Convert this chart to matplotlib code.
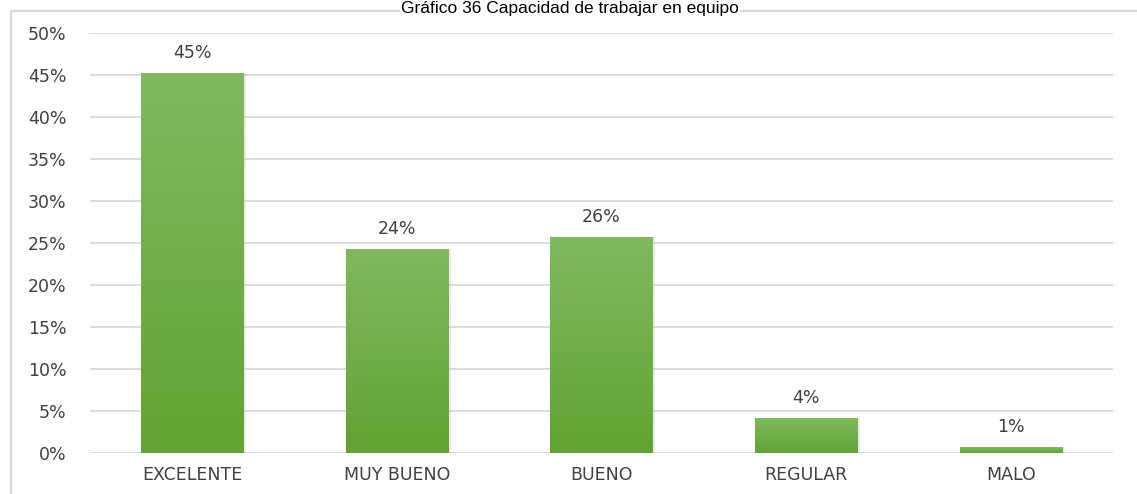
import matplotlib
matplotlib.use("Agg")
import matplotlib.pyplot as plt
import numpy as np
from matplotlib.patches import Rectangle
from matplotlib.colors import LinearSegmentedColormap

# Survey results
categories = ["EXCELENTE", "MUY BUENO", "BUENO", "REGULAR", "MALO"]
percentages = [45.2, 24.3, 25.7, 4.2, 0.7]
y_ticks = [0, 5, 10, 15, 20, 25, 30, 35, 40, 45, 50]
title = "Gráfico 36 Capacidad de trabajar en equipo"

W, H = 1137, 494
FONT = "DejaVu Sans"
FS = 12.5
fig = plt.figure(figsize=(W / 100, H / 100), dpi=100)
fig.patch.set_facecolor("white")

# Light frame around the chart area
frame = Rectangle((11 / W, -0.05), 1.2, 1 - 11 / H + 0.05, transform=fig.transFigure,
                  fill=False, edgecolor="#d9d9d9", linewidth=1.6, zorder=0)
fig.patches.append(frame)

fig.text(570 / W, 1 - 1 / H, title, ha="center", va="top",
         fontsize=12.5, family="Liberation Sans", color="black",
         bbox=dict(facecolor="white", edgecolor="none", pad=0.5))

ax = fig.add_axes([90 / W, 1 - 453 / H, 1023 / W, 420 / H])
ax.set_facecolor("none")

x = np.arange(len(categories))
bars = ax.bar(x, percentages, width=0.5, color="#70ad47", zorder=3, linewidth=0)

# Vertical gradient fill on each bar
grad_cmap = LinearSegmentedColormap.from_list("bar_grad", ["#62a333", "#80b95f"])
gradient = np.linspace(0, 1, 256).reshape(-1, 1)
for patch in bars:
    bx, by = patch.get_x(), patch.get_y()
    bw, bh = patch.get_width(), patch.get_height()
    # soft shadow to the right
    ax.add_patch(Rectangle((bx + 0.012, by), bw, bh, facecolor="#c8c8c8",
                           alpha=0.35, linewidth=0, zorder=2))
    im = ax.imshow(gradient, cmap=grad_cmap, origin="lower", aspect="auto",
                   extent=(bx, bx + bw, by, by + bh), zorder=4, interpolation="bilinear")
    im.set_clip_path(patch)

for xi, v in zip(x, percentages):
    ax.annotate(f"{v:.0f}%", (xi, v), xytext=(0, 8), textcoords="offset points",
                ha="center", va="bottom", fontsize=FS, family=FONT, color="#404040",
                zorder=5)

ax.set_xlim(-0.5, len(categories) - 0.5)
ax.set_ylim(0, 50)
ax.set_yticks(y_ticks)
ax.set_yticklabels([f"{t}%" for t in y_ticks])
ax.set_xticks(x)
ax.set_xticklabels(categories)
ax.tick_params(axis="both", length=0, labelsize=FS, colors="#404040")
ax.tick_params(axis="y", pad=17)
ax.tick_params(axis="x", pad=9)
for lbl in ax.get_xticklabels() + ax.get_yticklabels():
    lbl.set_family(FONT)

ax.grid(axis="y", color="#d9d9d9", linewidth=1.3, zorder=0)
ax.set_axisbelow(True)
for s in ax.spines.values():
    s.set_visible(False)

fig.savefig("out.png", dpi=100)
